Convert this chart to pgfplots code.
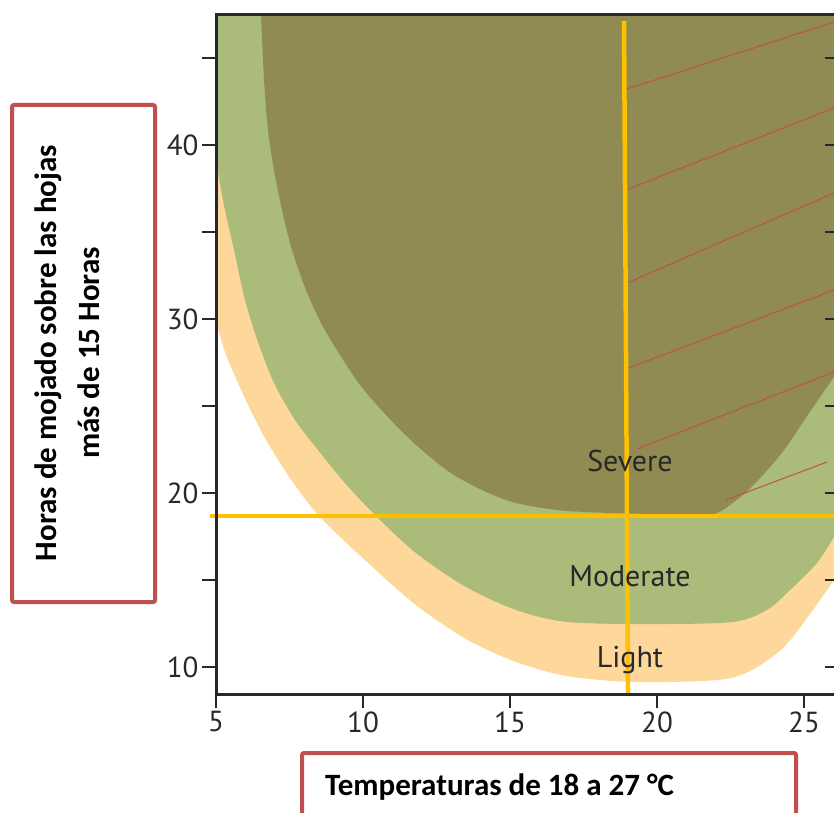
\documentclass[border=0pt]{standalone}
\usepackage{pgfplots}
\pgfplotsset{compat=1.18}
\usepgfplotslibrary{fillbetween}
\usepackage{fontspec}
\setmainfont{PT Sans}
\newfontfamily\calfont{Carlito}
\definecolor{lightc}{RGB}{254,216,155}
\definecolor{modc}{RGB}{171,187,121}
\definecolor{sevc}{RGB}{144,139,83}
\definecolor{goldc}{RGB}{255,192,0}
\definecolor{redl}{RGB}{192,80,77}
\definecolor{axisgray}{RGB}{40,40,40}
\definecolor{textgray}{RGB}{40,40,40}
\begin{document}
\begin{tikzpicture}
\begin{axis}[
  at={(216pt,118pt)}, anchor=south west,
  width=623pt, height=679pt, scale only axis,
  xmin=5, xmax=26.19, ymin=8.45, ymax=47.47,
  xtick={5,10,15,20,25},
  ytick={10,15,20,25,30,35,40,45},
  yticklabels={10,,20,,30,,40,},
  xtick pos=left, ytick pos=left, tick align=outside,
  major tick length=14pt,
  axis line style={line width=3pt, color=axisgray},
  every tick/.style={line width=2.5pt, color=axisgray},
  tick label style={font=\fontsize{29}{30}\selectfont, text=textgray},
  /pgf/number format/assume math mode=true,
  axis on top, clip=false,
]
% top edges
\addplot[draw=none, name path=topL] coordinates {(5,47.47) (26.19,47.47)};
\addplot[draw=none, name path=topS] coordinates {(6.531,47.47) (26.19,47.47)};
% Light (outer) boundary
\addplot[draw=none, smooth, name path=bL] coordinates {
 (5,30.11) (5.102,29.25) (5.306,28.10) (5.612,26.84) (6.088,25.06) (6.701,23.05)
 (7.517,20.86) (8.503,18.68) (10.102,16.09) (11.803,13.56) (13.503,11.61)
 (15.204,10.29) (16.939,9.48) (19.184,9.14) (22.041,9.25) (23.163,9.77)
 (24.286,11.09) (25.204,13.05) (26.020,15.00) (26.19,15.46)
};
% Moderate boundary
\addplot[draw=none, smooth, name path=bM] coordinates {
 (5,39.14) (5.102,38.10) (5.306,36.26) (5.612,33.97) (5.986,31.09) (6.463,28.51)
 (7.007,26.21) (7.687,24.20) (8.469,22.47) (9.388,20.57) (10.442,18.68)
 (11.803,16.55) (13.503,14.60) (15.204,13.28) (16.939,12.59) (19.762,12.47)
 (22.585,12.59) (23.741,13.28) (24.524,14.43) (25.442,15.98) (26.020,17.47)
 (26.19,17.87)
};
% Severe boundary
\addplot[draw=none, smooth, name path=bS] coordinates {
 (6.531,47.47) (6.633,43.74) (6.769,40.86) (6.973,38.56) (7.245,36.26)
 (7.585,33.97) (8.061,31.67) (8.605,29.66) (9.218,27.93) (9.898,26.21)
 (10.782,24.48) (11.735,22.87) (12.891,21.26) (14.048,20.17) (15.204,19.43)
 (16.939,18.97) (19.762,18.79) (21.463,18.74) (22.041,18.85) (22.483,19.31)
 (22.993,20.00) (23.537,20.92) (24.320,22.47) (25.238,24.77) (26.020,26.67)
 (26.19,27.07)
};
\addplot[lightc] fill between[of=bL and topL];
\addplot[modc] fill between[of=bM and topL];
\addplot[sevc] fill between[of=bS and topS];
% red hatch lines
\addplot[redl, line width=1pt] coordinates {(18.980,43.218) (26.020,47.069)};
\addplot[redl, line width=1pt] coordinates {(18.946,37.414) (26.020,42.126)};
\addplot[redl, line width=1pt] coordinates {(18.980,32.069) (26.020,37.241)};
\addplot[redl, line width=1pt] coordinates {(18.946,27.126) (26.020,31.667)};
\addplot[redl, line width=1pt] coordinates {(19.320,22.529) (26.020,26.954)};
\addplot[redl, line width=1pt] coordinates {(22.347,19.598) (25.782,21.782)};
% yellow lines
\addplot[goldc, line width=4.5pt] coordinates {(4.80,18.68) (26.19,18.68)};
\addplot[goldc, line width=4.5pt] coordinates {(18.878,47.13) (19.014,8.45)};
% labels
\node[anchor=base, font=\fontsize{30}{32}\selectfont, text=textgray] at (axis cs:19.08,21.21) {Severe};
\node[anchor=base, font=\fontsize{30}{32}\selectfont, text=textgray] at (axis cs:19.08,14.60) {Moderate};
\node[anchor=base, font=\fontsize{30}{32}\selectfont, text=textgray] at (axis cs:19.08,10.00) {Light};
% right-side inward ticks
\pgfplotsinvokeforeach{10,15,20,25,30,35,40,45}{
  \draw[axisgray, line width=2.5pt] (axis cs:26.19,#1) -- ++(-14pt,0pt);
}
\end{axis}
\draw[redl, line width=4pt, fill=white, rounded corners=2pt] (12pt,210pt) rectangle (155pt,707pt);
\node[rotate=90, align=center, font=\calfont\bfseries\fontsize{31}{43}\selectfont] at (67pt,459pt)
  {Horas de mojado sobre las hojas\\más de 15 Horas};
\draw[redl, line width=4pt, fill=white, rounded corners=2pt] (302pt,-20pt) rectangle (796pt,59pt);
\node[anchor=base west, inner sep=0pt, font=\calfont\bfseries\fontsize{31}{36}\selectfont] at (325pt,17pt)
  {Temperaturas de 18 a 27 °C};
\pgfresetboundingbox
\useasboundingbox (0pt,0pt) rectangle (834pt,812pt);
\end{tikzpicture}
\end{document}
